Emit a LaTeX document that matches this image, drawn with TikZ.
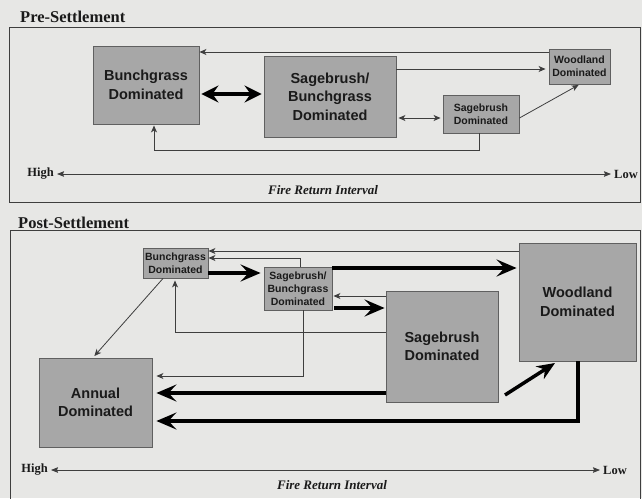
\documentclass[tikz,border=0pt]{standalone}
\usepackage{fontspec}
\setmainfont{Liberation Serif}
\setsansfont{Liberation Sans}
\usetikzlibrary{arrows.meta}
\definecolor{bgcol}{HTML}{E7E7E5}
\definecolor{boxfill}{HTML}{A7A7A7}
\definecolor{boxline}{HTML}{606060}
\definecolor{thincol}{HTML}{3E3E3E}
\definecolor{txtcol}{HTML}{1A1A1A}
\tikzset{
  statebox/.style={draw=boxline, fill=boxfill, line width=0.9pt, align=center, text=txtcol, inner sep=0pt},
  bigtext/.style={font=\sffamily\bfseries\fontsize{14.5}{18.5}\selectfont},
  smalltext/.style={font=\sffamily\bfseries\fontsize{10.5}{13}\selectfont},
  thinarrow/.style={draw=thincol, line width=0.8pt, -{Stealth[length=7pt,width=6pt,inset=2pt]}},
  thindouble/.style={draw=thincol, line width=0.8pt, {Stealth[length=7pt,width=6pt,inset=2pt]}-{Stealth[length=7pt,width=6pt,inset=2pt]}},
  thickarrow/.style={draw=black, line width=3.5pt, -{Stealth[length=20pt,width=17pt,inset=8pt]}},
  thickdouble/.style={draw=black, line width=3.5pt, {Stealth[length=17pt,width=17pt,inset=6pt]}-{Stealth[length=17pt,width=17pt,inset=6pt]}},
  axisarrow/.style={draw=thincol, line width=0.8pt, {Stealth[length=7pt,width=5.5pt,inset=1pt]}-{Stealth[length=7pt,width=5.5pt,inset=1pt]}},
  framestyle/.style={draw=thincol, line width=0.9pt},
  titlelbl/.style={font=\rmfamily\bfseries\fontsize{16.5}{19}\selectfont, text=txtcol, inner sep=0pt},
  axislbl/.style={font=\rmfamily\bfseries\fontsize{12.5}{15}\selectfont, text=txtcol, inner sep=3pt},
  firelbl/.style={font=\rmfamily\bfseries\itshape\fontsize{13}{15}\selectfont, text=txtcol, inner sep=0pt}
}
\begin{document}
\begin{tikzpicture}[x=1pt,y=-1pt]
\useasboundingbox (0,0) rectangle (642,498);
\fill[bgcol] (0,0) rectangle (642,498);

% ---------------- Pre-Settlement ----------------
\node[titlelbl, anchor=west] (ptitle) at (20,17) {Pre-Settlement};
\draw[framestyle] (9,27) rectangle (640,202);

\node[statebox, bigtext, minimum width=106pt, minimum height=78pt] (pbg) at (146,85) {Bunchgrass\\Dominated};
\node[statebox, bigtext, minimum width=132pt, minimum height=81pt] (psb) at (330,96.5) {Sagebrush/\\Bunchgrass\\Dominated};
\node[statebox, smalltext, minimum width=61pt, minimum height=35pt] (pwd) at (579.5,66.5) {Woodland\\Dominated};
\node[statebox, smalltext, minimum width=76pt, minimum height=38pt] (psg) at (481,114) {Sagebrush\\Dominated};

\draw[thinarrow] (pwd.west |- 0,52) -- (pbg.east |- 0,52);
\draw[thinarrow, shorten >=3pt] (psb.east |- 0,69) -- (pwd.west |- 0,69);
\draw[thickdouble, shorten >=2pt, shorten <=2pt] (pbg.east |- 0,94) -- (psb.west |- 0,94);
\draw[thindouble, shorten >=2pt, shorten <=2pt] (psb.east |- 0,118) -- (psg.west |- 0,118);
\draw[thinarrow, shorten >=1pt] (psg.east |- 0,118) -- (pwd.south);
\draw[thinarrow, shorten >=1pt] (psg.south -| 479,0) -- (479,150) -- (154,150) -- (pbg.south -| 154,0);

\node[axislbl, anchor=east] (phigh) at (57,174) {High};
\node[axislbl, anchor=west] (plow) at (611,174) {Low};
\draw[axisarrow] (phigh) -- (plow);
\node[firelbl] (pfire) at (323,190) {Fire Return Interval};

% ---------------- Post-Settlement ----------------
\node[titlelbl, anchor=west] (qtitle) at (18,223) {Post-Settlement};
\draw[framestyle] (10,499) -- (10,230) -- (640,230) -- (640,499);

\node[statebox, smalltext, minimum width=65pt, minimum height=30pt] (qbg) at (175.5,263) {Bunchgrass\\Dominated};
\node[statebox, smalltext, minimum width=68pt, minimum height=43pt] (qsb) at (298,288.5) {Sagebrush/\\Bunchgrass\\Dominated};
\node[statebox, bigtext, minimum width=117pt, minimum height=118pt] (qwd) at (577.5,302) {Woodland\\Dominated};
\node[statebox, bigtext, minimum width=112pt, minimum height=111pt] (qsg) at (442,346.5) {Sagebrush\\Dominated};
\node[statebox, bigtext, minimum width=113pt, minimum height=89pt] (qan) at (95.5,402.5) {Annual\\Dominated};

\draw[thinarrow] (qwd.west |- 0,251) -- (qbg.east |- 0,251);
\draw[thinarrow] (qsb.north -| 300,0) -- (300,258) -- (qbg.east |- 0,258);
\draw[thickarrow, shorten >=3pt] (qbg.east |- 0,273) -- (qsb.west |- 0,273);
\draw[thickarrow, shorten >=2pt] (qsb.east |- 0,268) -- (qwd.west |- 0,268);
\draw[thinarrow, shorten >=1pt] (qsg.west |- 0,296) -- (qsb.east |- 0,296);
\draw[thickarrow, shorten >=1pt, shorten <=2pt] (qsb.east |- 0,308) -- (qsg.west |- 0,308);
\draw[thinarrow, shorten >=2pt] (qsg.west |- 0,332) -- (175,332) -- (qbg.south -| 175,0);
\draw[thinarrow, shorten >=4pt] (qsb.south -| 303,0) -- (303,376) -- (qan.east |- 0,376);
\draw[thinarrow, shorten >=2pt] (qbg.south -| 163,0) -- (qan.north -| 93,0);
\draw[thickarrow, shorten >=4pt] (qsg.west |- 0,393) -- (qan.east |- 0,393);
\draw[thickarrow, shorten >=4pt] (qwd.south -| 578,0) -- (578,421) -- (qan.east |- 0,421);
\coordinate (dstart) at (505,395);
\coordinate (dend) at (555,363);
\draw[draw=black, line width=3.5pt, -{Stealth[length=18pt,width=15pt,inset=6pt]}] (dstart) -- (dend);

\node[axislbl, anchor=east] (qhigh) at (51,470) {High};
\node[axislbl, anchor=west] (qlow) at (600,470) {Low};
\draw[axisarrow] (qhigh) -- (qlow);
\node[firelbl] (qfire) at (332,485) {Fire Return Interval};
\end{tikzpicture}
\end{document}
